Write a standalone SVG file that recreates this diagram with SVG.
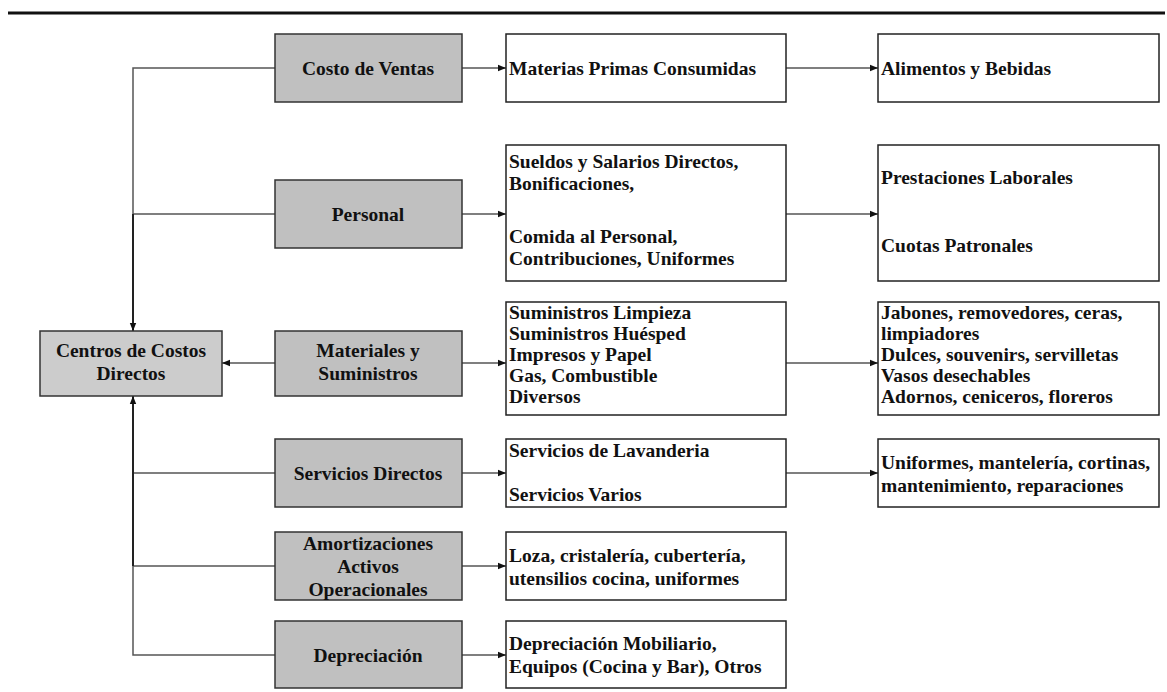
<svg xmlns="http://www.w3.org/2000/svg" width="1167" height="692" viewBox="0 0 1167 692">
  <style>
    .t { font-family: "Liberation Serif", "Times New Roman", serif; font-weight: bold; font-size: 19.5px; fill: #111; }
    .c { text-anchor: middle; }
    .cat { fill: #c0c0c0; stroke: #333; stroke-width: 1.5; }
    .hub { fill: #cccccc; stroke: #333; stroke-width: 1.5; }
    .item { fill: #fff; stroke: #222; stroke-width: 1.5; }
    .ln { fill: none; stroke: #555; stroke-width: 1.5; }
    .dk { fill: none; stroke: #222; stroke-width: 2; }
  </style>
  <defs>
    <marker id="ah" viewBox="0 0 10 10" refX="10" refY="5" markerWidth="8" markerHeight="8" markerUnits="userSpaceOnUse" orient="auto">
      <path d="M0,1 L10,5 L0,9 Z" fill="#111"/>
    </marker>
  </defs>

  <rect width="1167" height="692" fill="#fff"/>
  <line x1="8" y1="13" x2="1165" y2="13" stroke="#111" stroke-width="3"/>

  <!-- connectors -->
  <g id="connectors">
    <!-- trunk into the hub from above -->
    <path class="ln" d="M275,68 H133 V214"/>
    <path class="ln" d="M275,214 H133"/>
    <path class="dk" d="M133,214 V331" marker-end="url(#ah)"/>
    <!-- trunk into the hub from below -->
    <path class="ln" d="M275,655 H133 V566"/>
    <path class="ln" d="M275,473 H133"/>
    <path class="ln" d="M275,566 H133"/>
    <path class="dk" d="M133,566 V396" marker-end="url(#ah)"/>
    <!-- side entry -->
    <path class="ln" d="M275,363 H222" marker-end="url(#ah)"/>
    <!-- category to detail -->
    <path class="ln" d="M462,68 H506" marker-end="url(#ah)"/>
    <path class="ln" d="M462,214 H506" marker-end="url(#ah)"/>
    <path class="ln" d="M462,363 H506" marker-end="url(#ah)"/>
    <path class="ln" d="M462,473 H506" marker-end="url(#ah)"/>
    <path class="ln" d="M462,566 H506" marker-end="url(#ah)"/>
    <path class="ln" d="M462,655 H506" marker-end="url(#ah)"/>
    <!-- detail to sub-detail -->
    <path class="ln" d="M786,68 H878" marker-end="url(#ah)"/>
    <path class="ln" d="M786,214 H878" marker-end="url(#ah)"/>
    <path class="ln" d="M786,363 H878" marker-end="url(#ah)"/>
    <path class="ln" d="M786,473 H878" marker-end="url(#ah)"/>
  </g>

  <g id="centros">
    <rect class="hub" x="40" y="331" width="182" height="65"/>
    <text class="t c" x="131" y="357">Centros de Costos</text>
    <text class="t c" x="131" y="380">Directos</text>
  </g>

  <g id="costo-ventas">
    <rect class="cat" x="275" y="34" width="187" height="68"/>
    <text class="t c" x="368" y="75">Costo de Ventas</text>
  </g>
  <g id="materias-primas">
    <rect class="item" x="506" y="34" width="280" height="68"/>
    <text class="t" x="509" y="75">Materias Primas Consumidas</text>
  </g>
  <g id="alimentos">
    <rect class="item" x="878" y="34" width="281" height="68"/>
    <text class="t" x="881" y="75">Alimentos y Bebidas</text>
  </g>

  <g id="personal">
    <rect class="cat" x="275" y="180" width="187" height="68"/>
    <text class="t c" x="368" y="221">Personal</text>
  </g>
  <g id="sueldos">
    <rect class="item" x="506" y="145" width="280" height="136"/>
    <text class="t" x="509" y="168">Sueldos y Salarios Directos,</text>
    <text class="t" x="509" y="190">Bonificaciones,</text>
    <text class="t" x="509" y="243">Comida al Personal,</text>
    <text class="t" x="509" y="265">Contribuciones, Uniformes</text>
  </g>
  <g id="prestaciones">
    <rect class="item" x="878" y="145" width="281" height="136"/>
    <text class="t" x="881" y="184">Prestaciones Laborales</text>
    <text class="t" x="881" y="252">Cuotas Patronales</text>
  </g>

  <g id="materiales">
    <rect class="cat" x="275" y="331" width="187" height="65"/>
    <text class="t c" x="368" y="357">Materiales y</text>
    <text class="t c" x="368" y="380">Suministros</text>
  </g>
  <g id="suministros">
    <rect class="item" x="506" y="302" width="280" height="113"/>
    <text class="t" x="509" y="319">Suministros Limpieza</text>
    <text class="t" x="509" y="340">Suministros Huésped</text>
    <text class="t" x="509" y="361">Impresos y Papel</text>
    <text class="t" x="509" y="382">Gas, Combustible</text>
    <text class="t" x="509" y="403">Diversos</text>
  </g>
  <g id="jabones">
    <rect class="item" x="878" y="302" width="281" height="113"/>
    <text class="t" x="881" y="319">Jabones, removedores, ceras,</text>
    <text class="t" x="881" y="340">limpiadores</text>
    <text class="t" x="881" y="361">Dulces, souvenirs, servilletas</text>
    <text class="t" x="881" y="382">Vasos desechables</text>
    <text class="t" x="881" y="403">Adornos, ceniceros, floreros</text>
  </g>

  <g id="servicios-directos">
    <rect class="cat" x="275" y="439" width="187" height="68"/>
    <text class="t c" x="368" y="480">Servicios Directos</text>
  </g>
  <g id="servicios">
    <rect class="item" x="506" y="439" width="280" height="68"/>
    <text class="t" x="509" y="457">Servicios de Lavanderia</text>
    <text class="t" x="509" y="501">Servicios Varios</text>
  </g>
  <g id="uniformes">
    <rect class="item" x="878" y="439" width="281" height="68"/>
    <text class="t" x="881" y="469">Uniformes, mantelería, cortinas,</text>
    <text class="t" x="881" y="492">mantenimiento, reparaciones</text>
  </g>

  <g id="amortizaciones">
    <rect class="cat" x="275" y="532" width="187" height="68"/>
    <text class="t c" x="368" y="550">Amortizaciones</text>
    <text class="t c" x="368" y="573">Activos</text>
    <text class="t c" x="368" y="596">Operacionales</text>
  </g>
  <g id="loza">
    <rect class="item" x="506" y="532" width="280" height="68"/>
    <text class="t" x="509" y="562">Loza, cristalería, cubertería,</text>
    <text class="t" x="509" y="585">utensilios cocina, uniformes</text>
  </g>

  <g id="depreciacion">
    <rect class="cat" x="275" y="621" width="187" height="67"/>
    <text class="t c" x="368" y="662">Depreciación</text>
  </g>
  <g id="depreciacion-detalle">
    <rect class="item" x="506" y="621" width="280" height="67"/>
    <text class="t" x="509" y="650">Depreciación Mobiliario,</text>
    <text class="t" x="509" y="673">Equipos (Cocina y Bar), Otros</text>
  </g>
</svg>
